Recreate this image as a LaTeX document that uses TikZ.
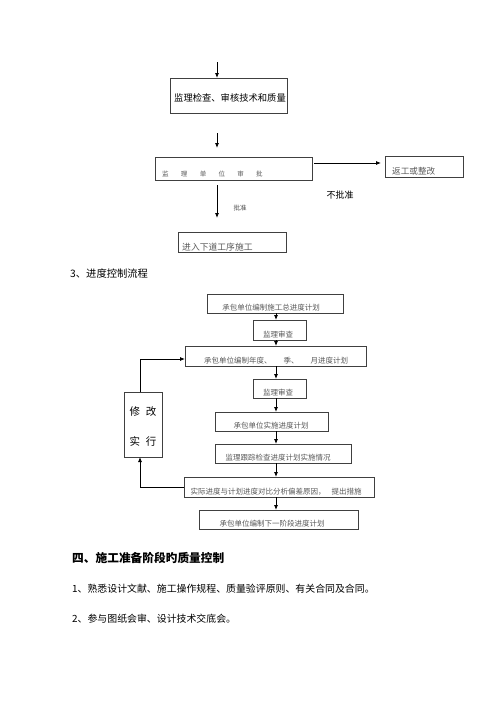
\documentclass[tikz,border=0pt]{standalone}
\usepackage{fontspec}
\newfontfamily\cjk{Noto Sans CJK SC}
\usetikzlibrary{arrows.meta}
\tikzset{
  box/.style={draw=black!75, line width=0.7pt, inner sep=0pt, outer sep=0pt},
  tx/.style={inner sep=0pt, anchor=base, text=black!65, font=\cjk\fontsize{7.5}{8}\selectfont},
  big/.style={inner sep=0pt, font=\cjk\fontsize{9.3}{10}\selectfont},
  arr/.style={-{Latex[length=5pt,width=4pt]}, line width=0.8pt},
  ln/.style={line width=0.8pt}
}
\begin{document}
\begin{tikzpicture}[x=1pt,y=-1pt]
\useasboundingbox[fill=white] (0,0) rectangle (500,707);
% ---------- top part ----------
\node[box, minimum width=117pt, minimum height=35pt] (b1) at (228.5,95.5) {};
\node[big] (b1t) at (230,98) {监理检查、审核技术和质量};
\node[box, minimum width=157pt, minimum height=23pt] (b2) at (233.5,168.5) {};
\node[tx, anchor=base west, font=\cjk\fontsize{6.5}{7}\selectfont] (b2t) at (162,176) {监\hspace{12.3pt}理\hspace{12.3pt}单\hspace{12.3pt}位\hspace{12.3pt}审\hspace{12.3pt}批};
\node[box, minimum width=78pt, minimum height=21pt] (b3) at (424,166.5) {};
\node[tx, anchor=base west, font=\cjk\fontsize{8.6}{9}\selectfont] (b3t) at (392,174) {返工或整改};
\node[box, minimum width=108pt, minimum height=20pt] (b4) at (232,242) {};
\node[tx, anchor=base west, font=\cjk\fontsize{8.8}{9}\selectfont] (b4t) at (182,250) {进入下道工序施工};
\coordinate (s1) at (217,62);
\coordinate (s2) at (217,133);
\coordinate (e2) at (217,148);
\coordinate (s3) at (217,185);
\coordinate (e3) at (217,218);
\draw[arr] (s1) -- (b1.north -| s1);
\draw[arr] (s2) -- (e2);
\draw[arr] (s3) -- (e3);
\coordinate (r1) at (314,163);
\coordinate (r2) at (381,163);
\draw[arr] (r1) -- (r2);
\node[inner sep=0pt, font=\cjk\fontsize{9}{10}\selectfont] (nb) at (340,195) {不批准};
\node[inner sep=0pt, text=black!70, font=\cjk\fontsize{6.5}{7}\selectfont] (pz) at (240,208) {批准};
% ---------- heading ----------
\node[inner sep=0pt, anchor=base west, font=\cjk\fontsize{10.3}{11}\selectfont] (h3) at (70,277) {3、进度控制流程};
% ---------- flow ----------
\node[box, minimum width=136pt, minimum height=19pt] (A) at (275,303.5) {};
\node[tx] (At) at (271,310.5) {承包单位编制施工总进度计划};
\node[box, minimum width=53pt, minimum height=20pt] (B) at (279.5,330) {};
\node[tx] (Bt) at (278,337) {监理审查};
\node[box, minimum width=181pt, minimum height=20pt] (C) at (275.5,356) {};
\node[tx] (Ct) at (276,363) {承包单位编制年度、\hspace{12pt}季、\hspace{12pt}月进度计划};
\node[box, minimum width=53pt, minimum height=19pt] (D) at (279.5,388.5) {};
\node[tx] (Dt) at (278,395.5) {监理审查};
\node[box, minimum width=113pt, minimum height=19pt] (E) at (271.5,421.5) {};
\node[tx] (Et) at (271,428.5) {承包单位实施进度计划};
\node[box, minimum width=136pt, minimum height=19pt] (F) at (283,453.5) {};
\node[tx] (Ft) at (278,460.5) {监理跟踪检查进度计划实施情况};
\node[box, minimum width=190pt, minimum height=20pt] (G) at (279,487) {};
\node[tx] (Gt) at (276,494) {实际进度与计划进度对比分析偏差原因，\hspace{6pt}提出措施};
\node[box, minimum width=159pt, minimum height=19pt] (H) at (278.5,519.5) {};
\node[tx] (Ht) at (272,526.5) {承包单位编制下一阶段进度计划};
\node[box, minimum width=38pt, minimum height=65pt] (M) at (143,424.5) {};
\node[inner sep=0pt, font=\cjk\fontsize{10.5}{11}\selectfont] (M1) at (143,412) {修\hspace{6pt}改};
\node[inner sep=0pt, font=\cjk\fontsize{10.5}{11}\selectfont] (M2) at (143,441) {实\hspace{6pt}行};
\coordinate (col) at (276,0);
\foreach \a/\b in {A/B,B/C,C/D,D/E,E/F,F/G,G/H}{
  \draw[arr] (\a.south -| col) -- (\b.north -| col);
}
\coordinate (fb) at (140,0);
\draw[arr] (G.west) -| (M.south -| fb);
\draw[arr] (M.north -| fb) |- ([yshift=-3pt]C.west);
% ---------- bottom text ----------
\node[inner sep=0pt, anchor=west, font=\cjk\bfseries\fontsize{11.7}{12}\selectfont] (t4) at (72,558) {四、施工准备阶段旳质量控制};
\node[inner sep=0pt, anchor=west, font=\cjk\fontsize{9.9}{11}\selectfont] (t41) at (72,589) {1、熟悉设计文献、施工操作规程、质量验评原则、有关合同及合同。};
\node[inner sep=0pt, anchor=west, font=\cjk\fontsize{9.9}{11}\selectfont] (t42) at (72,619) {2、参与图纸会审、设计技术交底会。};
\end{tikzpicture}
\end{document}
